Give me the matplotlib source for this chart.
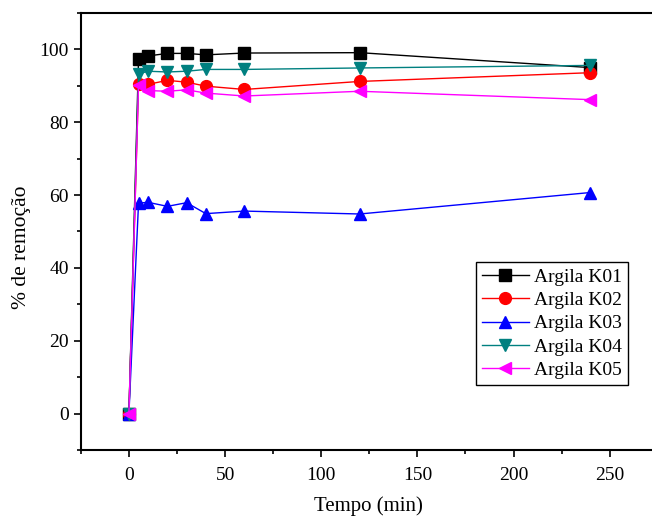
import matplotlib
matplotlib.use('agg')
import matplotlib.pyplot as plt
from matplotlib.ticker import MultipleLocator

plt.rcParams['font.family'] = 'Liberation Serif'

tempo = [0, 5, 10, 20, 30, 40, 60, 120, 240]
k01 = [0, 97.4, 98.2, 98.9, 98.9, 98.5, 99.0, 99.1, 95.0]
k02 = [0, 90.5, 90.4, 91.5, 91.0, 89.9, 89.0, 91.2, 93.6]
k03 = [0, 57.8, 58.0, 56.9, 57.9, 54.9, 55.6, 54.8, 60.7]
k04 = [0, 93.3, 94.0, 93.8, 94.0, 94.5, 94.5, 94.9, 95.6]
k05 = [0, 90.1, 88.7, 88.5, 88.9, 88.0, 87.2, 88.5, 86.2]

fig = plt.figure(figsize=(6.52, 5.19), dpi=100)
ax = fig.add_axes([0.124, 0.133, 0.876, 0.842])

ax.plot(tempo, k01, color='black', marker='s', ms=8, lw=1, label='Argila K01')
ax.plot(tempo, k02, color='red', marker='o', ms=8.5, lw=1, label='Argila K02')
ax.plot(tempo, k03, color='blue', marker='^', ms=9, lw=1, label='Argila K03')
ax.plot(tempo, k04, color='#008080', marker='v', ms=9, lw=1, label='Argila K04')
ax.plot(tempo, k05, color='magenta', marker='<', ms=9, lw=1, label='Argila K05')

ax.set_xlim(-25, 272)
ax.set_ylim(-10, 110)
ax.xaxis.set_major_locator(MultipleLocator(50))
ax.xaxis.set_minor_locator(MultipleLocator(25))
ax.yaxis.set_major_locator(MultipleLocator(20))
ax.yaxis.set_minor_locator(MultipleLocator(10))
ax.tick_params(which='major', direction='out', length=5, width=1.2, labelsize=14)
ax.tick_params(which='minor', direction='out', length=3, width=1.2)
ax.tick_params(axis='x', which='major', pad=7)
ax.tick_params(top=False, right=False, which='both')
ax.spines['right'].set_visible(False)
for s in ['left', 'bottom', 'top']:
    ax.spines[s].set_linewidth(1.5)

ax.set_xlabel('Tempo (min)', fontsize=15)
ax.set_ylabel('% de remoção', fontsize=15.5)
ax.xaxis.set_label_coords(0.503, -0.107)
ax.yaxis.set_label_coords(-0.088, 0.465)

leg = ax.legend(loc='upper left', bbox_to_anchor=(0.692, 0.43), fontsize=14,
                frameon=True, fancybox=False, edgecolor='black', framealpha=1,
                handlelength=2.4, handletextpad=0.3, labelspacing=0.3,
                borderpad=0.3, borderaxespad=0)
leg.get_frame().set_linewidth(1)

fig.savefig('out.png', dpi=100)
